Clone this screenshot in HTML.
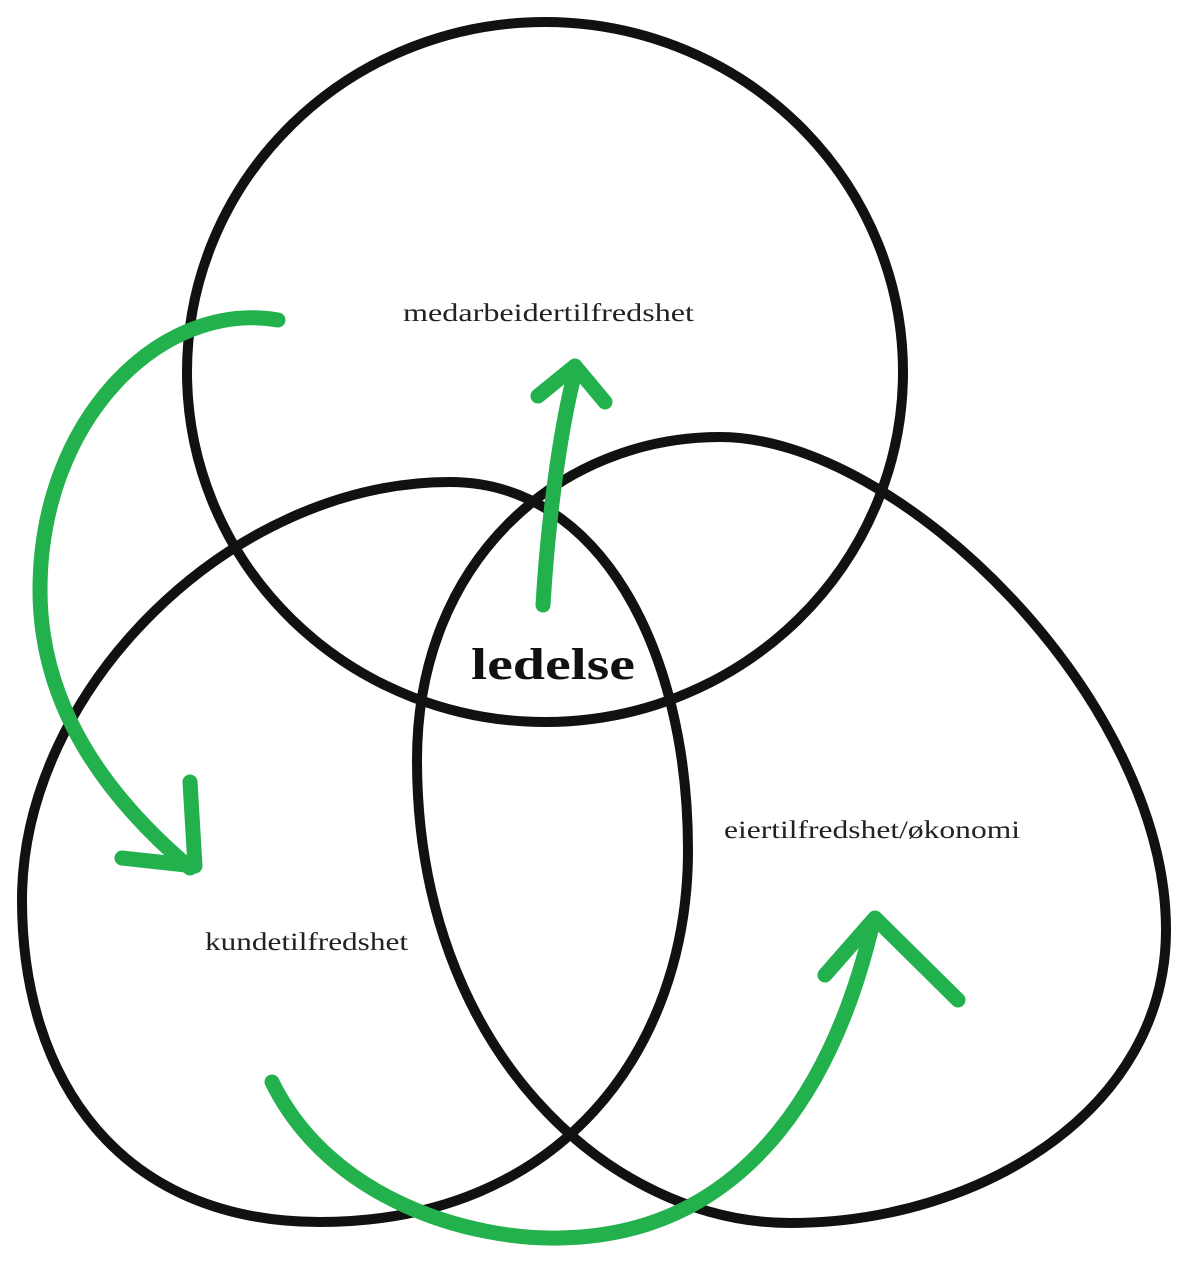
<!DOCTYPE html>
<html><head><meta charset="utf-8"><style>
html,body{margin:0;padding:0;background:#fff;}
svg{display:block;}
text{font-family:"Liberation Serif",serif;fill:#222;}
</style></head><body>
<svg width="1200" height="1265" viewBox="0 0 1200 1265" xmlns="http://www.w3.org/2000/svg">
<g fill="none" stroke="#111" stroke-width="10" stroke-linecap="round">
<ellipse cx="545" cy="372" rx="358" ry="350"/>
<path d="M450,482 C600,482 688,650 688,850 C688,1050 560,1222 320,1222 C120,1222 22,1080 22,900 C22,690 230,482 450,482 Z"/>
<path d="M720,437 C900,437 1166,700 1166,930 C1166,1110 980,1223 790,1223 C610,1223 417,1050 417,760 C417,560 560,437 720,437 Z"/>
</g>
<g fill="none" stroke="#22b14c" stroke-width="15" stroke-linecap="round" stroke-linejoin="round">
<path d="M278,320 C160,300 40,420 40,590 C40,710 110,800 190,868"/>
<path d="M190,782 L195,866 L122,858"/>
<path d="M543,605 C548,520 560,430 575,372"/>
<path d="M538,396 L575,366 L605,402"/>
<path d="M272,1082 C330,1200 470,1240 560,1238 C760,1235 840,1060 872,926"/>
<path d="M825,975 L875,918 L958,1000"/>
</g>
<text x="403" y="321" font-size="25" textLength="291" lengthAdjust="spacingAndGlyphs">medarbeidertilfredshet</text>
<text x="471" y="679" font-size="44" font-weight="bold" textLength="164" lengthAdjust="spacingAndGlyphs" style="fill:#111">ledelse</text>
<text x="724" y="838" font-size="25" textLength="296" lengthAdjust="spacingAndGlyphs">eiertilfredshet/økonomi</text>
<text x="205" y="950" font-size="25" textLength="203" lengthAdjust="spacingAndGlyphs">kundetilfredshet</text>
</svg>
</body></html>
